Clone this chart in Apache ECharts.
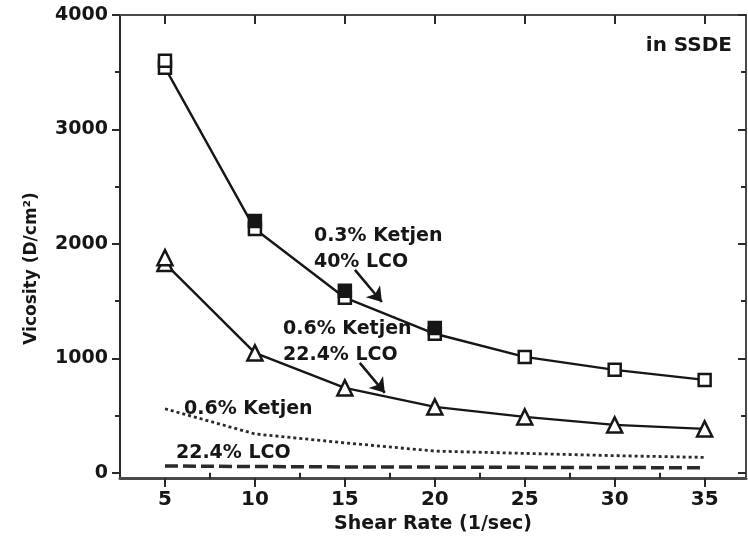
<!DOCTYPE html>
<html>
<head>
<meta charset="utf-8">
<title>Viscosity vs shear rate in SSDE</title>
<script src="https://cdn.jsdelivr.net/npm/echarts@6/dist/echarts.min.js"></script>
<style>
  html, body { margin: 0; padding: 0; background: #fff; }
  #chart { width: 748px; height: 543px; }
</style>
</head>
<body>
<div id="chart"></div>
<script>
// Shear rate (1/sec) at which each viscosity was measured
const shearRate = [5, 10, 15, 20, 25, 30, 35];

// Viscosity (D/cm²) for each slurry
const viscKetjen03Lco40 = [3540, 2130, 1530, 1215, 1013, 900, 812];
const viscKetjen03Lco40Repeat = [3600, 2200, 1590, 1265];     // repeat run, first four rates
const viscKetjen06Lco224 = [1830, 1048, 742, 576, 489, 419, 384];
const viscKetjen06Lco224Repeat = [1880];                      // repeat run, first rate
const viscKetjen06Only = [560, 340, 262, 190, 170, 150, 135];
const viscLco224Only = [60, 55, 52, 50, 48, 46, 45];

// Axis ticks
const xTickValues = [5, 10, 15, 20, 25, 30, 35];
const xMinorTickValues = [7.5, 12.5, 17.5, 22.5, 27.5, 32.5];
const yTickValues = [0, 1000, 2000, 3000, 4000];
const yMinorTickValues = [500, 1500, 2500, 3500];

// Curve annotations
const annotationTexts = ['0.3% Ketjen\n40% LCO', '0.6% Ketjen\n22.4% LCO', '0.6% Ketjen', '22.4% LCO'];
const cornerText = 'in SSDE';

const pairs = (ys) => ys.map((y, i) => [shearRate[i], y]);

const FONT = 'DejaVu Sans';
const INK = '#161616';
const X_MIN = 2.5, X_MAX = 37.3, Y_MIN = -45, Y_MAX = 4000;

const textStyle = { fontFamily: FONT, fontWeight: 'bold', color: INK };
const plainNumber = (v) => String(v);

function xAxisDef(extra) {
  return Object.assign({
    type: 'value', min: X_MIN, max: X_MAX,
    axisLine: { show: false },
    axisLabel: { show: false },
    splitLine: { show: false }
  }, extra);
}
function yAxisDef(extra) {
  return Object.assign({
    type: 'value', min: Y_MIN, max: Y_MAX,
    axisLine: { show: false },
    axisLabel: { show: false },
    splitLine: { show: false }
  }, extra);
}

const tickLine = { color: '#2a2a2a', width: 2 };

const option = {
  backgroundColor: '#ffffff',
  animation: false,
  title: {
    text: cornerText, right: 11, top: 31,
    textStyle: Object.assign({ fontSize: 20 }, textStyle)
  },
  grid: { left: 120, right: 2, top: 15, bottom: 65 },
  xAxis: [
    xAxisDef({
      position: 'bottom',
      axisLine: { show: true, onZero: false, lineStyle: { color: '#4a4a4a', width: 3 } },
      axisTick: { show: true, customValues: xTickValues, length: 9, lineStyle: tickLine },
      axisLabel: Object.assign({ show: true, customValues: xTickValues, fontSize: 20, margin: 12, formatter: plainNumber }, textStyle),
      name: 'Shear Rate (1/sec)', nameLocation: 'middle', nameGap: 36,
      nameTextStyle: Object.assign({ fontSize: 19 }, textStyle)
    }),
    xAxisDef({
      position: 'bottom',
      axisTick: { show: true, customValues: xMinorTickValues, length: 5, lineStyle: tickLine }
    }),
    xAxisDef({
      position: 'top',
      axisLine: { show: true, onZero: false, lineStyle: { color: '#4a4a4a', width: 2 } },
      axisTick: { show: true, inside: true, customValues: xTickValues, length: 9, lineStyle: tickLine }
    }),
    xAxisDef({
      position: 'top',
      axisTick: { show: true, inside: true, customValues: xMinorTickValues, length: 6, lineStyle: tickLine }
    })
  ],
  yAxis: [
    yAxisDef({
      position: 'left',
      axisLine: { show: true, onZero: false, lineStyle: { color: '#2a2a2a', width: 2 } },
      axisTick: { show: true, customValues: yTickValues, length: 8, lineStyle: tickLine },
      axisLabel: Object.assign({ show: true, customValues: yTickValues, fontSize: 19, margin: 12, formatter: plainNumber }, textStyle),
      name: 'Vicosity (D/cm²)', nameLocation: 'middle', nameGap: 80, nameRotate: 90,
      nameTextStyle: Object.assign({ fontSize: 17, padding: [0, 44, 0, 0] }, textStyle)
    }),
    yAxisDef({
      position: 'left',
      axisTick: { show: true, customValues: yMinorTickValues, length: 5, lineStyle: tickLine }
    }),
    yAxisDef({
      position: 'right',
      axisLine: { show: true, onZero: false, lineStyle: { color: '#4a4a4a', width: 2 } },
      axisTick: { show: true, inside: true, customValues: yTickValues, length: 8, lineStyle: tickLine }
    }),
    yAxisDef({
      position: 'right',
      axisTick: { show: true, inside: true, customValues: yMinorTickValues, length: 5, lineStyle: tickLine }
    })
  ],
  series: [
    {
      name: '0.3% Ketjen, 40% LCO',
      type: 'line',
      data: pairs(viscKetjen03Lco40),
      symbol: 'rect', symbolSize: 12,
      itemStyle: { color: '#ffffff', borderColor: INK, borderWidth: 2.5 },
      lineStyle: { color: INK, width: 2.4 },
      z: 3,
      markLine: {
        silent: true, symbol: ['none', 'arrow'], symbolSize: 14,
        lineStyle: { type: 'solid', color: INK, width: 2.5 },
        label: { show: false },
        data: [
          [{ coord: [15.56, 1773] }, { coord: [17.06, 1493] }],
          [{ coord: [15.83, 961] }, { coord: [17.22, 699] }]
        ]
      },
      markPoint: {
        silent: true, symbol: 'circle', symbolSize: 0,
        label: Object.assign({ show: true, position: 'right', distance: 0, fontSize: 19, lineHeight: 26 }, textStyle),
        data: [
          { coord: [13.28, 1956], label: { formatter: annotationTexts[0] } },
          { coord: [11.56, 1144], label: { formatter: annotationTexts[1] } },
          { coord: [6.06, 559], label: { formatter: annotationTexts[2] } },
          { coord: [5.61, 175], label: { formatter: annotationTexts[3] } }
        ]
      }
    },
    {
      name: '0.3% Ketjen, 40% LCO (repeat)',
      type: 'line',
      data: pairs(viscKetjen03Lco40Repeat),
      symbol: 'rect', symbolSize: 12,
      itemStyle: {
        color: (p) => (p.dataIndex === 0 ? '#ffffff' : INK),
        borderColor: INK, borderWidth: 2.5
      },
      lineStyle: { width: 0 },
      z: 4
    },
    {
      name: '0.6% Ketjen, 22.4% LCO',
      type: 'line',
      data: pairs(viscKetjen06Lco224),
      symbol: 'triangle', symbolSize: 15,
      itemStyle: { color: '#ffffff', borderColor: INK, borderWidth: 2.5 },
      lineStyle: { color: INK, width: 2.4 },
      z: 3
    },
    {
      name: '0.6% Ketjen, 22.4% LCO (repeat)',
      type: 'line',
      data: pairs(viscKetjen06Lco224Repeat),
      symbol: 'triangle', symbolSize: 15,
      itemStyle: { color: '#ffffff', borderColor: INK, borderWidth: 2.5 },
      lineStyle: { width: 0 },
      z: 4
    },
    {
      name: '0.6% Ketjen',
      type: 'line',
      data: pairs(viscKetjen06Only),
      showSymbol: false, symbol: 'none',
      lineStyle: { color: '#2a2a2a', width: 2.8, type: [3, 3] },
      z: 2
    },
    {
      name: '22.4% LCO',
      type: 'line',
      data: pairs(viscLco224Only),
      showSymbol: false, symbol: 'none',
      lineStyle: { color: '#2a2a2a', width: 3.5, type: [13, 5] },
      z: 2
    }
  ]
};

const chart = echarts.init(document.getElementById('chart'), null, { renderer: 'canvas' });
chart.setOption(option);
</script>
</body>
</html>
